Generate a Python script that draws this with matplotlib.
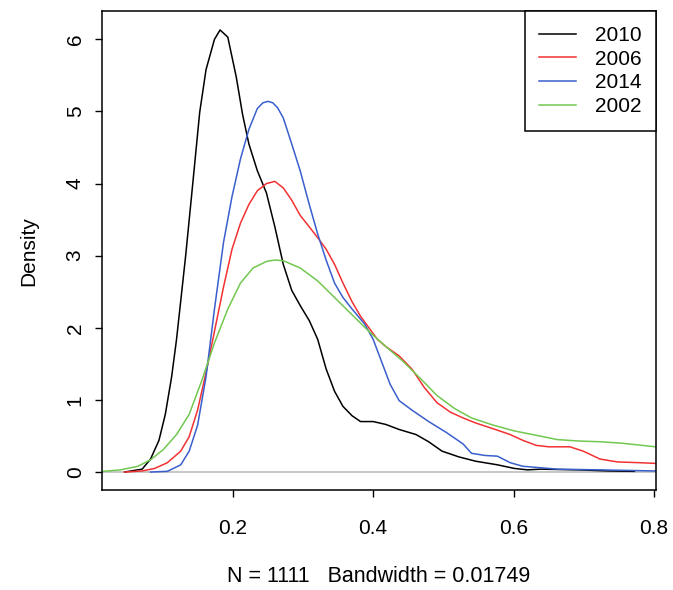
import matplotlib
matplotlib.use("Agg")
import matplotlib.pyplot as plt

plt.rcParams['font.family'] = ['Liberation Sans', 'DejaVu Sans']

# density estimates
x_2010 = [0.046, 0.071, 0.083, 0.095, 0.104, 0.113, 0.120, 0.133, 0.143, 0.153, 0.162, 0.174,
          0.182, 0.193, 0.205, 0.214, 0.223, 0.235, 0.248, 0.260, 0.272, 0.284, 0.296, 0.309,
          0.321, 0.333, 0.345, 0.357, 0.370, 0.382, 0.400, 0.418, 0.437, 0.461, 0.479, 0.498,
          0.522, 0.546, 0.577, 0.601, 0.620, 0.638, 0.693, 0.735, 0.772]
y_2010 = [0.0, 0.04, 0.18, 0.44, 0.80, 1.32, 1.84, 3.00, 3.99, 4.99, 5.58, 6.00,
          6.13, 6.03, 5.48, 4.96, 4.55, 4.18, 3.87, 3.40, 2.88, 2.52, 2.31, 2.10,
          1.84, 1.43, 1.12, 0.91, 0.78, 0.70, 0.70, 0.66, 0.59, 0.52, 0.42, 0.29,
          0.21, 0.15, 0.10, 0.05, 0.03, 0.04, 0.03, 0.015, 0.01]

x_2006 = [0.046, 0.071, 0.089, 0.107, 0.126, 0.138, 0.150, 0.162, 0.174, 0.187, 0.199, 0.211,
          0.223, 0.235, 0.248, 0.260, 0.272, 0.284, 0.296, 0.309, 0.321, 0.333, 0.345, 0.357,
          0.370, 0.382, 0.394, 0.406, 0.418, 0.437, 0.455, 0.473, 0.491, 0.510, 0.528, 0.546,
          0.571, 0.595, 0.613, 0.632, 0.650, 0.680, 0.699, 0.723, 0.748, 0.778, 0.802]
y_2006 = [0.0, 0.015, 0.05, 0.13, 0.29, 0.49, 0.86, 1.38, 1.95, 2.57, 3.09, 3.45,
          3.71, 3.90, 4.00, 4.03, 3.94, 3.77, 3.56, 3.40, 3.25, 3.09, 2.88, 2.62,
          2.36, 2.16, 2.00, 1.84, 1.74, 1.61, 1.43, 1.17, 0.96, 0.83, 0.75, 0.68,
          0.60, 0.52, 0.44, 0.37, 0.35, 0.35, 0.29, 0.18, 0.14, 0.13, 0.12]

x_2014 = [0.083, 0.107, 0.126, 0.138, 0.150, 0.162, 0.174, 0.187, 0.199, 0.211, 0.223, 0.235,
          0.243, 0.250, 0.257, 0.264, 0.272, 0.284, 0.296, 0.309, 0.321, 0.333, 0.345, 0.357,
          0.370, 0.388, 0.400, 0.412, 0.424, 0.437, 0.455, 0.479, 0.504, 0.528, 0.540, 0.559,
          0.577, 0.595, 0.613, 0.638, 0.662, 0.723, 0.802]
y_2014 = [0.0, 0.01, 0.10, 0.29, 0.65, 1.32, 2.26, 3.19, 3.82, 4.34, 4.75, 5.04,
          5.12, 5.14, 5.12, 5.05, 4.91, 4.55, 4.18, 3.71, 3.30, 2.94, 2.62, 2.42,
          2.26, 2.05, 1.84, 1.53, 1.22, 0.99, 0.86, 0.70, 0.55, 0.39, 0.26, 0.23,
          0.22, 0.13, 0.08, 0.06, 0.04, 0.03, 0.015]

x_2002 = [0.016, 0.040, 0.065, 0.083, 0.101, 0.120, 0.138, 0.156, 0.174, 0.193, 0.211, 0.229,
          0.248, 0.260, 0.272, 0.296, 0.321, 0.345, 0.370, 0.394, 0.418, 0.443, 0.467, 0.491,
          0.516, 0.540, 0.571, 0.601, 0.632, 0.662, 0.693, 0.723, 0.754, 0.802]
y_2002 = [0.01, 0.03, 0.08, 0.17, 0.31, 0.52, 0.80, 1.27, 1.79, 2.26, 2.62, 2.83,
          2.92, 2.94, 2.93, 2.83, 2.65, 2.42, 2.18, 1.95, 1.74, 1.53, 1.30, 1.06,
          0.88, 0.75, 0.65, 0.57, 0.51, 0.45, 0.43, 0.42, 0.40, 0.35]

labels = ["2010", "2006", "2014", "2002"]
colors = ["black", "#f23232", "#3a5fcd", "#72c850"]
xs = [x_2010, x_2006, x_2014, x_2002]
ys = [y_2010, y_2006, y_2014, y_2002]

fig = plt.figure(figsize=(6.73, 5.90), dpi=100)
ax = fig.add_axes([0.1516, 0.1695, 0.823, 0.8115])

ax.axhline(0, color="#bebebe", lw=1.2, zorder=1)
for x, y, c, lab in zip(xs, ys, colors, labels):
    ax.plot(x, y, color=c, lw=1.1, label=lab, zorder=2)

ax.set_xlim(0.0139, 0.8026)
ax.set_ylim(-0.249, 6.39)
ax.set_xticks([0.2, 0.4, 0.6, 0.8])
ax.set_xticklabels(["0.2", "0.4", "0.6", "0.8"])
ax.set_yticks(range(7))
ax.tick_params(direction="out", length=5, width=1, labelsize=15)
ax.tick_params(axis="x", pad=16)
ax.tick_params(axis="y", pad=7.5)
for lbl in ax.get_yticklabels():
    lbl.set_rotation(90)
    lbl.set_va("center")
for s in ax.spines.values():
    s.set_linewidth(1.1)

ax.set_ylabel("Density", fontsize=15, labelpad=20)
ax.set_xlabel("N = 1111   Bandwidth = 0.01749", fontsize=15.5, labelpad=20)

leg = ax.legend(loc="upper right", fontsize=15, frameon=True, fancybox=False,
                edgecolor="black", framealpha=1, borderaxespad=0,
                handlelength=1.75, handletextpad=0.9, labelspacing=0.23,
                borderpad=0.7)
leg.get_frame().set_linewidth(1.1)

fig.savefig("out.png", dpi=100)
